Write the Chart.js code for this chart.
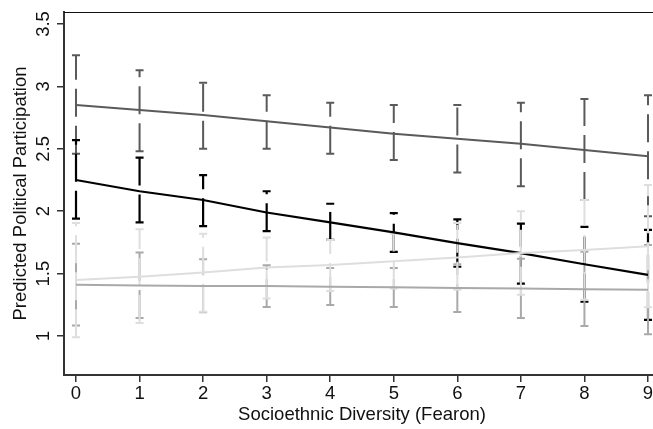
<!DOCTYPE html>
<html>
<head>
<meta charset="utf-8">
<script src="https://cdn.jsdelivr.net/npm/chart.js@4.4.1/dist/chart.umd.min.js"></script>
<style>
  html, body { margin: 0; padding: 0; background: #fff; overflow: hidden; }
  #wrap { width: 680px; height: 429px; }
</style>
</head>
<body>
<div id="wrap"><canvas id="chart1" width="680" height="429"></canvas></div>
<script>
// x categories and tick labels
const xVals = [0, 1, 2, 3, 4, 5, 6, 7, 8, 9];
const yTicks = [1, 1.5, 2, 2.5, 3, 3.5];
const yTickLabels = ["1", "1.5", "2", "2.5", "3", "3.5"];

// dark gray series
const darkMean = [2.85, 2.81, 2.77, 2.72, 2.67, 2.62, 2.58, 2.54, 2.49, 2.44];
const darkHi = [3.25, 3.13, 3.03, 2.93, 2.87, 2.85, 2.85, 2.87, 2.90, 2.93];
const darkLo = [2.46, 2.48, 2.50, 2.50, 2.46, 2.41, 2.31, 2.20, 2.09, 1.96];

// black series
const blackMean = [2.25, 2.16, 2.09, 1.99, 1.91, 1.83, 1.745, 1.665, 1.575, 1.49];
const blackHi = [2.57, 2.43, 2.29, 2.16, 2.06, 1.985, 1.935, 1.90, 1.875, 1.85];
const blackLo = [1.94, 1.91, 1.88, 1.84, 1.77, 1.675, 1.555, 1.42, 1.275, 1.13];

// mid gray series
const midMean = [1.41, 1.405, 1.40, 1.40, 1.395, 1.39, 1.385, 1.38, 1.375, 1.37];
const midHi = [1.74, 1.67, 1.615, 1.568, 1.545, 1.545, 1.575, 1.62, 1.675, 1.73];
const midLo = [1.085, 1.145, 1.19, 1.232, 1.248, 1.232, 1.192, 1.145, 1.08, 1.015];

// light gray series
const lightMean = [1.45, 1.475, 1.51, 1.55, 1.57, 1.60, 1.63, 1.665, 1.69, 1.72];
const lightHi = [1.905, 1.855, 1.82, 1.79, 1.77, 1.82, 1.905, 2.0, 2.09, 2.21];
const lightLo = [0.99, 1.105, 1.195, 1.30, 1.36, 1.38, 1.37, 1.33, 1.29, 1.23];

const FONT = "'Liberation Sans', Arial, sans-serif";

const series = [
  { mean: darkMean, hi: darkHi, lo: darkLo, color: '#5a5a5a', width: 2 },
  { mean: blackMean, hi: blackHi, lo: blackLo, color: '#000000', width: 2.2 },
  { mean: midMean, hi: midHi, lo: midLo, color: '#a9a9a9', width: 2 },
  { mean: lightMean, hi: lightHi, lo: lightLo, color: '#dedede', width: 2 }
];

// error bars, drawn dashed from the bottom up, with solid caps
const errorBars = {
  id: 'errorBars',
  beforeDatasetsDraw(chart) {
    const ctx = chart.ctx;
    const xs = chart.scales.x, ys = chart.scales.y;
    ctx.save();
    series.forEach(s => {
      ctx.strokeStyle = s.color;
      ctx.lineWidth = s.width;
      xVals.forEach((xv, i) => {
        const px = xs.getPixelForValue(xv);
        const yLo = ys.getPixelForValue(s.lo[i]);
        const yHi = ys.getPixelForValue(s.hi[i]);
        ctx.setLineDash([28, 9]);
        ctx.beginPath();
        ctx.moveTo(px, yLo);
        ctx.lineTo(px, yHi);
        ctx.stroke();
        ctx.setLineDash([]);
        ctx.beginPath();
        ctx.moveTo(px - 4, yHi); ctx.lineTo(px + 4, yHi);
        ctx.moveTo(px - 4, yLo); ctx.lineTo(px + 4, yLo);
        ctx.stroke();
      });
    });
    ctx.restore();
  },
  afterDraw(chart) {
    const ctx = chart.ctx;
    const a = chart.chartArea;
    const ys = chart.scales.y;
    ctx.save();
    // top outline of plot region
    ctx.strokeStyle = '#111';
    ctx.lineWidth = 1;
    ctx.beginPath();
    ctx.moveTo(a.left, a.top + 0.5);
    ctx.lineTo(a.right, a.top + 0.5);
    ctx.stroke();
    // rotated y tick labels
    ctx.fillStyle = '#111';
    ctx.font = '18.5px ' + FONT;
    ctx.textAlign = 'center';
    ctx.textBaseline = 'alphabetic';
    yTicks.forEach((v, i) => {
      const py = ys.getPixelForValue(v);
      ctx.save();
      ctx.translate(49, py);
      ctx.rotate(-Math.PI / 2);
      ctx.fillText(yTickLabels[i], 0, 0);
      ctx.restore();
    });
    ctx.restore();
  }
};

const ctx = document.getElementById('chart1').getContext('2d');
new Chart(ctx, {
  type: 'line',
  data: {
    datasets: series.map((s, k) => ({
      data: xVals.map((x, i) => ({ x: x, y: s.mean[i] })),
      borderColor: s.color,
      borderWidth: s.width,
      pointRadius: 0,
      fill: false,
      tension: 0,
      order: 4 - k
    }))
  },
  options: {
    responsive: false,
    animation: false,
    devicePixelRatio: 1,
    layout: { padding: { top: 12, right: 20, left: 0, bottom: 0 } },
    plugins: { legend: { display: false }, tooltip: { enabled: false } },
    scales: {
      x: {
        type: 'linear',
        min: -0.189,
        max: 9.189,
        afterBuildTicks: sc => { sc.ticks = xVals.map(v => ({ value: v })); },
        afterFit: sc => { sc.height = 54; },
        ticks: {
          color: '#111',
          font: { family: FONT, size: 18.5 },
          padding: 1,
          maxRotation: 0,
          callback: v => String(v)
        },
        grid: { drawOnChartArea: false, drawTicks: true, tickLength: 7, color: '#333', lineWidth: 1.5 },
        border: { display: true, color: '#333', width: 2 },
        title: {
          display: true,
          text: 'Socioethnic Diversity (Fearon)',
          color: '#111',
          font: { family: FONT, size: 18.5 },
          padding: { top: 0, bottom: 2.5 }
        }
      },
      y: {
        type: 'linear',
        min: 0.688,
        max: 3.596,
        afterBuildTicks: sc => { sc.ticks = yTicks.map(v => ({ value: v })); },
        afterFit: sc => { sc.width = 64; },
        ticks: { display: false },
        grid: { drawOnChartArea: false, drawTicks: true, tickLength: 7, color: '#333', lineWidth: 1.5 },
        border: { display: true, color: '#333', width: 2 },
        title: {
          display: true,
          text: 'Predicted Political Participation',
          color: '#111',
          font: { family: FONT, size: 18.5 },
          padding: { top: 10, bottom: 0 }
        }
      }
    }
  },
  plugins: [errorBars]
});
</script>
</body>
</html>
